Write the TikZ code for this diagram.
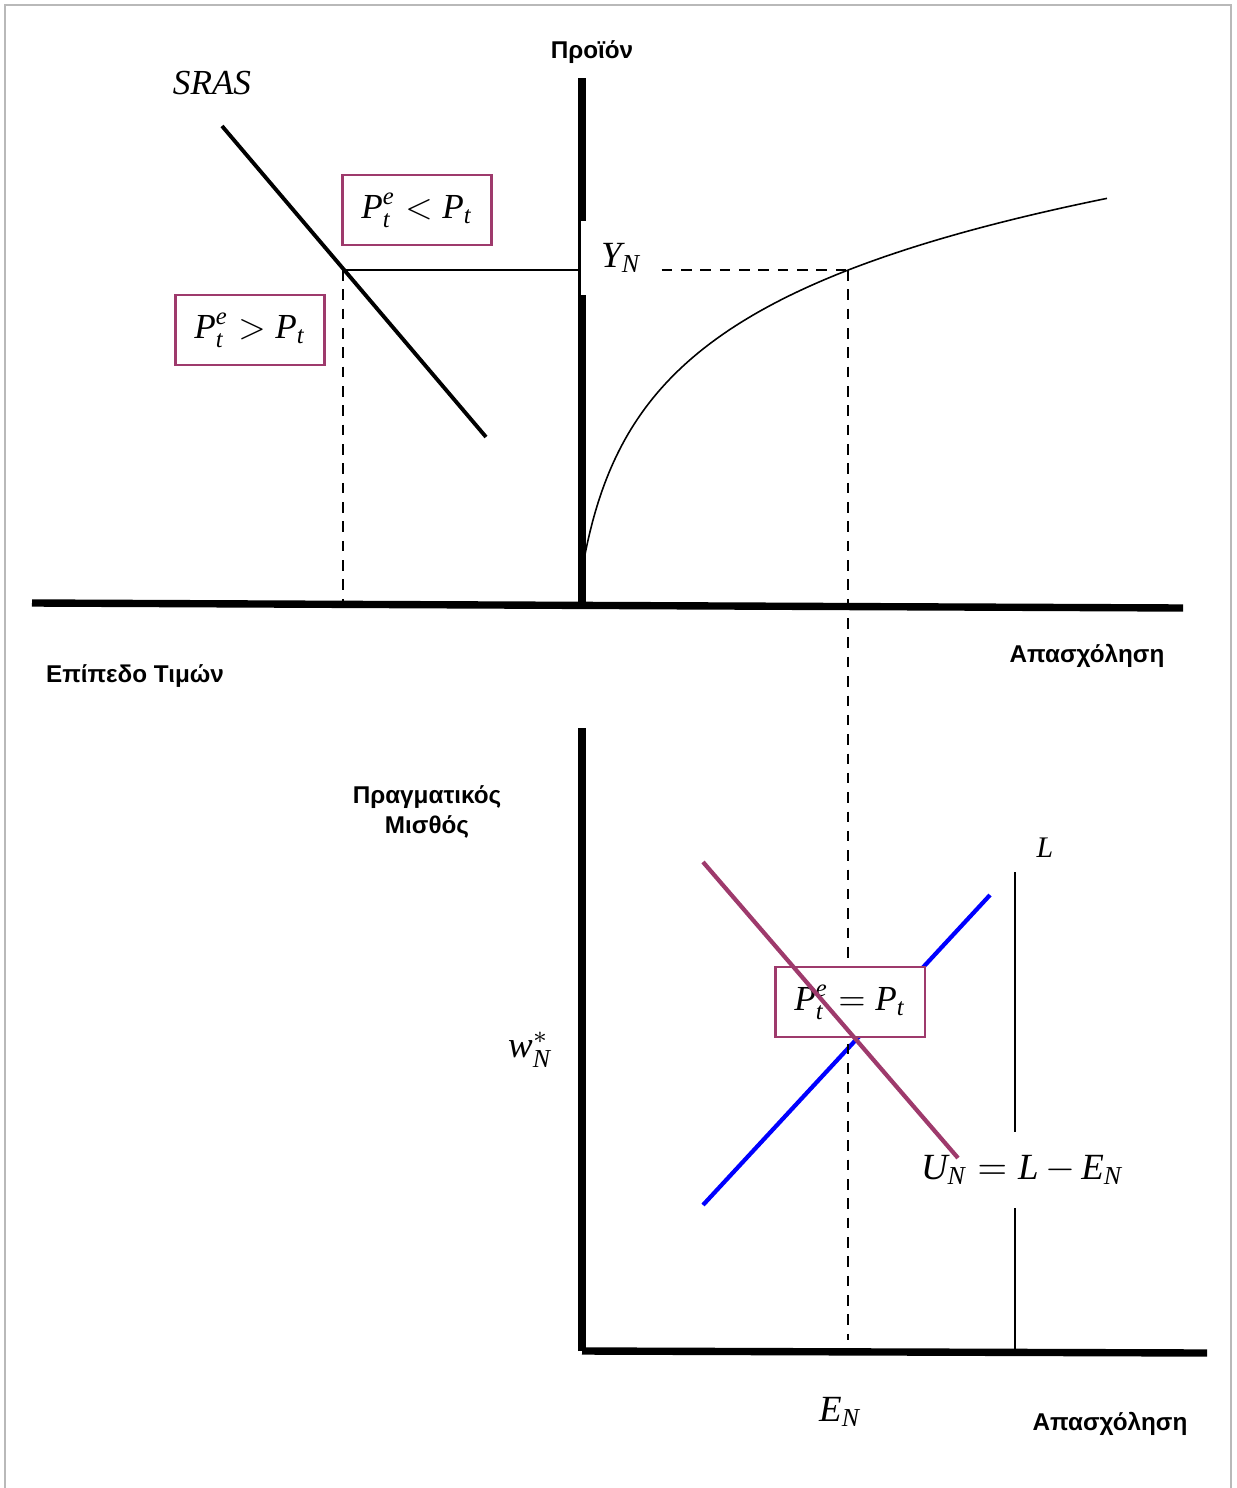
\documentclass[tikz,border=0pt]{standalone}
\usepackage{amsmath}
\usepackage[no-math]{fontspec}
\setmainfont{Liberation Serif}
\setsansfont{Liberation Sans}
\usepackage{tikz}
\newcommand{\vi}[1]{\textit{#1}}
\definecolor{plum}{RGB}{158,58,108}
\tikzset{axisline/.style={line width=2.1pt},
  thinline/.style={line width=0.45pt},
  guide/.style={dashed, line width=0.45pt, dash pattern=on 3pt off 2.5pt},
  condbox/.style={draw=plum, line width=0.6pt, fill=white, minimum width=1.49cm, minimum height=0.7cm, font=\fontsize{10}{12}\selectfont},
  axlabel/.style={font=\sffamily\bfseries\fontsize{6.9}{8.4}\selectfont, align=center}}

\begin{document}
\begin{tikzpicture}[x=0.01cm, y=-0.01cm]
\useasboundingbox (0,0) rectangle (1236,1488);
\draw[gray!55, line width=0.8pt] (5,1488) -- (5,5) -- (1231,5) -- (1231,1488);
% upper panel
\coordinate (o1) at (582,605);
\coordinate (ytop) at (582,78);
\coordinate (xl) at (32,603);
\coordinate (xr) at (1183,608);
\coordinate (s1) at (222,126);
\coordinate (s2) at (486,437);
\coordinate (sy) at (343,270);
\coordinate (sx) at (343,603);
\coordinate (fy) at (848,270);
\coordinate (ex) at (848,1340);
\draw[axisline] (o1) -- (ytop);
\draw[axisline] (xl) -- (xr);
\draw[line width=1.1pt] (s1) -- (s2);
\draw[thinline] (sy) -- (o1 |- sy);
\draw[guide] (sy) -- (sx);
\draw[thinline] plot[domain=0:524, samples=220] ({583+\x},{565-111*ln(1+\x/20)});
\node[fill=white, minimum width=0.8cm, minimum height=0.73cm, font=\fontsize{10.5}{12}\selectfont] (yn) at (621,258) {$\vi{Y}_{\vi{N}}$};
\draw[guide] (yn.east |- fy) -- (fy);
\node[condbox] (lt) at (417,210) {$\vi{P}_{\vi{t}}^{\vi{e}} < \vi{P}_{\vi{t}}$};
\node[condbox] (gt) at (250,330) {$\vi{P}_{\vi{t}}^{\vi{e}} > \vi{P}_{\vi{t}}$};
\node[font=\fontsize{10}{12}\selectfont\itshape] (sras) at (212,83) {SRAS};
\node[axlabel] (prod) at (592,52) {Προϊόν};
\node[axlabel] (emp1) at (1087,656) {Απασχόληση};
\node[axlabel] (price) at (135,676) {Επίπεδο Τιμών};
% lower panel
\coordinate (o2) at (582,1351);
\coordinate (wtop) at (582,728);
\coordinate (xr2) at (1207,1353);
\coordinate (b1) at (703,1205);
\coordinate (b2) at (990,895);
\coordinate (d1) at (703,862);
\coordinate (d2) at (958,1158);
\coordinate (lt1) at (1015,872);
\coordinate (lb1) at (1015,1352);
\draw[axisline] (o2) -- (wtop);
\draw[axisline] (o2) -- (xr2);
\draw[thinline] (lt1) -- (lb1);
\draw[blue, line width=1.2pt] (b1) -- (b2);
\draw[guide] (fy) -- (ex);
\node[condbox] (eq) at (850,1002) {$\vi{P}_{\vi{t}}^{\vi{e}} = \vi{P}_{\vi{t}}$};
\node[fill=white, inner xsep=1pt, minimum height=0.75cm, font=\fontsize{10.5}{13}\selectfont] (un) at (1022,1170) {$\vi{U}_{\vi{N}}\;{=}\;\vi{L}\,{-}\,\vi{E}_{\vi{N}}$};
\draw[plum, line width=1.2pt] (d1) -- (d2);
\node[font=\fontsize{8.5}{10}\selectfont] (lab) at (1045,848) {$\vi{L}$};
\node[font=\fontsize{10.5}{12}\selectfont] (wn) at (530,1050) {$\vi{w}_{\vi{N}}^{*}$};
\node[font=\fontsize{10.5}{12}\selectfont] (en) at (840,1412) {$\vi{E}_{\vi{N}}$};
\node[axlabel] (wage) at (427,812) {Πραγματικός\\Μισθός};
\node[axlabel] (emp2) at (1110,1424) {Απασχόληση};
\end{tikzpicture}
\end{document}
